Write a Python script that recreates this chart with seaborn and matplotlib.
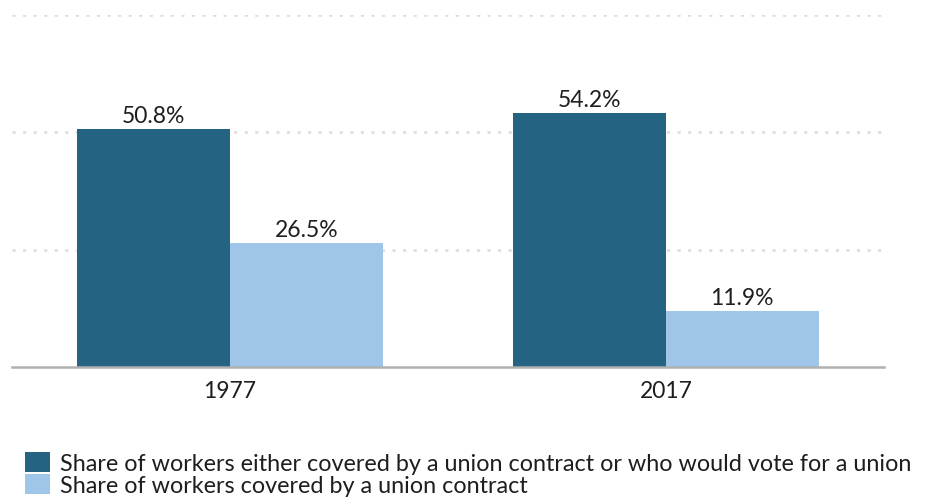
import matplotlib
matplotlib.use("Agg")
import matplotlib.pyplot as plt
import seaborn as sns
import pandas as pd

years = ["1977", "2017"]
series_names = [
    "Share of workers either covered by a union contract or who would vote for a union",
    "Share of workers covered by a union contract",
]
covered_or_would_vote = [50.8, 54.2]
covered_by_contract = [26.5, 11.9]
colors = ["#256383", "#9fc5e8"]

df = pd.DataFrame({
    "year": years * 2,
    "series": [series_names[0]] * 2 + [series_names[1]] * 2,
    "value": covered_or_would_vote + covered_by_contract,
})

sns.set_theme(style="white")
plt.rcParams["font.family"] = ["Lato", "DejaVu Sans"]

fig = plt.figure(figsize=(9.25, 5.02), dpi=100)
ax = fig.add_axes([12 / 925, (502 - 368) / 502, 872 / 925, (368 - 16) / 502])

sns.barplot(data=df, x="year", y="value", hue="series", palette=colors,
            width=0.7, saturation=1, ax=ax, legend=True,
            edgecolor="none", linewidth=0)

for c in ax.containers:
    ax.bar_label(c, fmt="%.1f%%", padding=2, fontsize=16.5, color="#1e1e1e")

ax.set_ylim(0, 75)
ax.set_xlim(-0.5, 1.5)
ax.set_yticks([25, 50, 75])
ax.set_yticklabels([])
ax.yaxis.grid(True, color="#dddddd", linestyle=(0, (1.2, 2.8)), linewidth=1.9)
ax.set_axisbelow(True)
for s in ["top", "right", "left"]:
    ax.spines[s].set_visible(False)
ax.spines["bottom"].set_color("#b0b0b0")
ax.spines["bottom"].set_linewidth(1.8)
ax.tick_params(axis="x", length=0, labelsize=16.5, colors="#1e1e1e", pad=9)
ax.tick_params(axis="y", length=0)
ax.set_xlabel("")
ax.set_ylabel("")

handles, labels = ax.get_legend_handles_labels()
ax.get_legend().remove()
fig.legend(handles, labels, loc="lower left", bbox_to_anchor=(25 / 925, 5 / 502),
           frameon=False, fontsize=16.8, handlelength=1.07, handleheight=0.94,
           handletextpad=0.43, labelspacing=0.0, borderaxespad=0.0,
           borderpad=0.0, labelcolor="#1e1e1e")

fig.savefig("out.png", dpi=100)
